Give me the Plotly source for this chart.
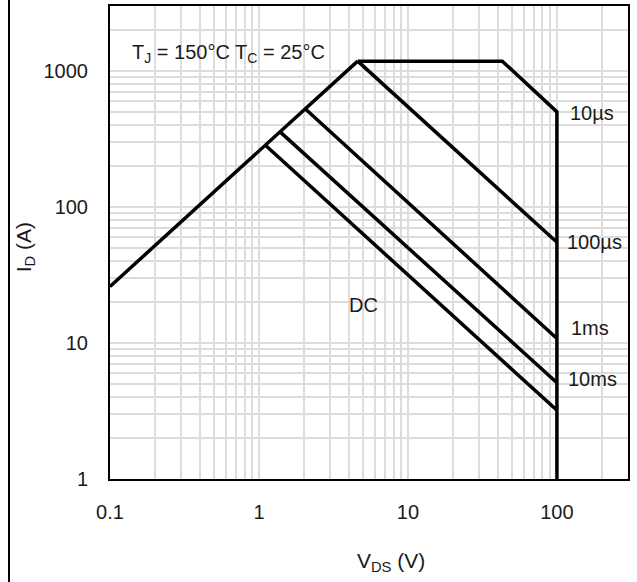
import math
import plotly.graph_objects as go

# ---- data ----
rds_v = [0.1, 4.6]
rds_i = [26, 1180]

us10_v = [4.6, 43, 100, 100]
us10_i = [1180, 1180, 500, 1]

us100_v = [4.6, 100]
us100_i = [1180, 55]

ms1_v = [2.05, 100]
ms1_i = [525, 10.8]

ms10_v = [1.38, 100]
ms10_i = [358, 5.1]

dc_v = [1.1, 100]
dc_i = [285, 3.2]

x_tick_vals = [0.1, 1, 10, 100]
x_tick_text = ["0.1", "1", "10", "100"]
y_tick_vals = [1, 10, 100, 1000]
y_tick_text = ["1", "10", "100", "1000"]

curve_labels = ["10µs", "100µs", "1ms", "10ms", "DC"]
label_v = [172, 180, 166, 172, 5.0]
label_i = [490, 55, 12.9, 5.45, 19]

FONT = "Liberation Sans, Arial, sans-serif"
TXT = "#1a1a1a"

x_minor = [m * d for d in (0.1, 1, 10) for m in range(2, 10)] + [200]
y_minor = [m * d for d in (1, 10, 100) for m in range(2, 10)] + [2000]

fig = go.Figure()
line_style = dict(color="black", width=3.5)
for v, i in [(rds_v, rds_i), (us10_v, us10_i), (us100_v, us100_i),
             (ms1_v, ms1_i), (ms10_v, ms10_i), (dc_v, dc_i)]:
    fig.add_trace(go.Scatter(x=v, y=i, mode="lines", line=line_style,
                             showlegend=False, hoverinfo="skip"))

grid_color = "#dcdcdc"
fig.update_xaxes(type="log", range=[-1, math.log10(300)],
                 tickvals=x_tick_vals, ticktext=x_tick_text,
                 showgrid=True, gridcolor=grid_color, gridwidth=2,
                 minor=dict(tickvals=x_minor, showgrid=True,
                            gridcolor=grid_color, gridwidth=2, ticks=""),
                 showline=True, mirror=True, linecolor="black", linewidth=2,
                 ticks="", ticklabelstandoff=14, zeroline=False,
                 tickfont=dict(family=FONT, size=20, color=TXT))
fig.update_yaxes(type="log", range=[0, math.log10(3000)],
                 tickvals=y_tick_vals, ticktext=y_tick_text,
                 showgrid=True, gridcolor=grid_color, gridwidth=2,
                 minor=dict(tickvals=y_minor, showgrid=True,
                            gridcolor=grid_color, gridwidth=2, ticks=""),
                 showline=True, mirror=True, linecolor="black", linewidth=2,
                 ticks="", ticklabelstandoff=16, zeroline=False,
                 tickfont=dict(family=FONT, size=20, color=TXT))

for t, v, i in zip(curve_labels, label_v, label_i):
    fig.add_annotation(x=math.log10(v), y=math.log10(i), text=t, showarrow=False,
                       xanchor="center", yanchor="middle",
                       font=dict(family=FONT, size=20, color=TXT))

fig.add_annotation(x=math.log10(0.136), y=math.log10(1335),
                   text="T<sub>J</sub> = 150°C T<sub>C</sub> = 25°C",
                   showarrow=False, xanchor="left", yanchor="middle",
                   font=dict(family=FONT, size=20, color=TXT))

fig.add_annotation(xref="paper", yref="paper", x=0.5425, y=-0.175,
                   text="V<sub>DS</sub> (V)", showarrow=False,
                   xanchor="center", yanchor="middle",
                   font=dict(family=FONT, size=21, color=TXT))
fig.add_annotation(xref="paper", yref="paper", x=-0.164, y=0.49,
                   text="I<sub>D</sub> (A)", showarrow=False, textangle=-90,
                   xanchor="center", yanchor="middle",
                   font=dict(family=FONT, size=21, color=TXT))

# page border line on the far left
fig.add_shape(type="line", xref="paper", yref="paper",
              x0=-0.195, x1=-0.195, y0=-0.23, y1=1.02,
              line=dict(color="black", width=2))

fig.update_layout(width=637, height=582,
                  margin=dict(l=110, r=9, t=4, b=103),
                  plot_bgcolor="white", paper_bgcolor="white")
fig.write_html("out.html", config={"displayModeBar": False},
               post_script="document.body.style.margin='0';")
